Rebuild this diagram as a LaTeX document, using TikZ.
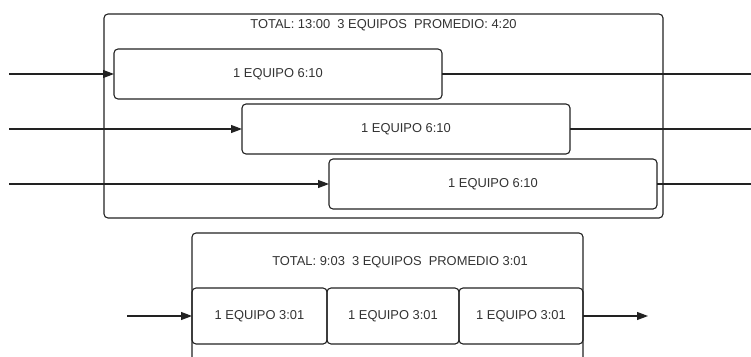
\documentclass[tikz,border=0pt]{standalone}
\usepackage{fontspec}
\setmainfont{Liberation Sans}
\usetikzlibrary{arrows.meta}
\definecolor{ln}{HTML}{222222}
\definecolor{tx}{HTML}{333333}
\begin{document}
\begin{tikzpicture}[x=1pt,y=-1pt,
  every node/.style={inner sep=0pt,outer sep=0pt,text=tx,font=\fontsize{12.9}{14}\selectfont},
  stepbox/.style={draw=ln,line width=1.1pt,rounded corners=4pt,minimum height=50pt},
  conn/.style={draw=ln,line width=1.1pt},
  arr/.style={conn,-{Triangle[length=11pt,width=8pt]}}]
\useasboundingbox (0,0) rectangle (751,356);
% top group
\node[draw=ln,line width=1.1pt,rounded corners=4pt,minimum width=559pt,minimum height=204pt] (outer) at (383.5,116) {};
\node (t1) at (383.5,25) {TOTAL: 13:00\ \ 3 EQUIPOS\ \ PROMEDIO: 4:20};
\node[stepbox,minimum width=328pt] (b1) at (278,74) {1 EQUIPO 6:10};
\node[stepbox,minimum width=328pt] (b2) at (406,129) {1 EQUIPO 6:10};
\node[stepbox,minimum width=328pt] (b3) at (493,184) {1 EQUIPO 6:10};
\coordinate (i1) at (9,74); \coordinate (o1) at (751,74);
\coordinate (i2) at (9,129); \coordinate (o2) at (751,129);
\coordinate (i3) at (9,184); \coordinate (o3) at (751,184);
\draw[arr] (i1) -- (b1.west);
\draw[arr] (i2) -- (b2.west);
\draw[arr] (i3) -- (b3.west);
\draw[conn] (b1.east) -- (o1);
\draw[conn] (b2.east) -- (o2);
\draw[conn] (b3.east) -- (o3);
% bottom group
\draw[conn,rounded corners=4pt] (192,357) -- (192,233) -- (583,233) -- (583,357);
\node (t2) at (400,262) {TOTAL: 9:03\ \ 3 EQUIPOS\ \ PROMEDIO 3:01};
\node[stepbox,minimum width=135pt,minimum height=56pt] (c1) at (259.5,316) {1 EQUIPO 3:01};
\node[stepbox,minimum width=132pt,minimum height=56pt] (c2) at (393,316) {1 EQUIPO 3:01};
\node[stepbox,minimum width=124pt,minimum height=56pt] (c3) at (521,316) {1 EQUIPO 3:01};
\coordinate (ci) at (127,316); \coordinate (co) at (648,316);
\draw[arr] (ci) -- (c1.west);
\draw[arr] (c3.east) -- (co);
\end{tikzpicture}
\end{document}
